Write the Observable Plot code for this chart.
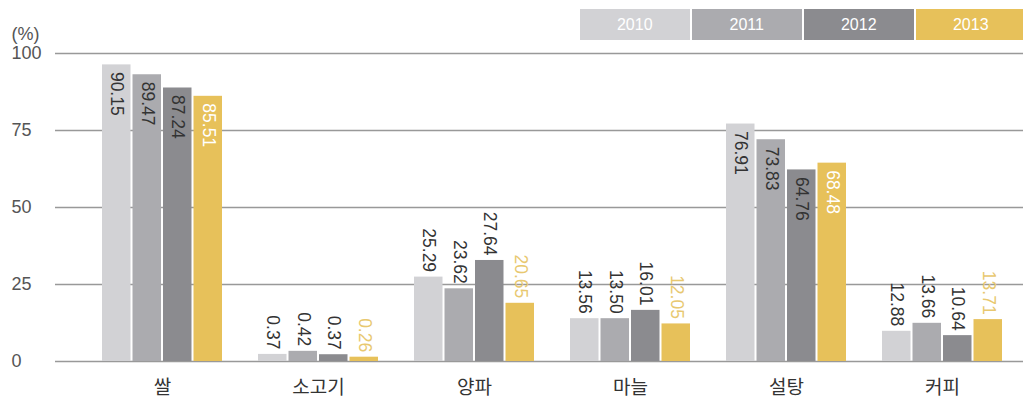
<!DOCTYPE html>
<html>
<head>
<meta charset="utf-8">
<script src="https://cdn.jsdelivr.net/npm/d3@7"></script>
<script src="https://cdn.jsdelivr.net/npm/@observablehq/plot@0.6"></script>
<style>
  html, body { margin: 0; padding: 0; background: #fff; }
  #wrap { position: relative; width: 1023px; height: 403px; font-family: "Liberation Sans", "Noto Sans CJK KR", sans-serif; }
  #legend { position: absolute; left: 580px; top: 9px; display: flex; gap: 2.5px; }
  #legend div { width: 109.5px; height: 31px; line-height: 31px; text-align: center; color: #fff; font-size: 16px; }
</style>
</head>
<body>
<div id="wrap"><div id="legend"></div></div>
<script>
const categories = ["쌀", "소고기", "양파", "마늘", "설탕", "커피"];
const years = ["2010", "2011", "2012", "2013"];
const colors = ["#d2d2d5", "#ababaf", "#8b8b8f", "#e7c15a"];
const labelColorsIn = ["#333333", "#333333", "#333333", "#ffffff"];
const labelColorsOut = ["#333333", "#333333", "#333333", "#e8c870"];

// bar heights as drawn in the picture (%)
const v2010 = [96.3, 2.3, 27.4, 13.9, 77.1, 9.8];
const v2011 = [93.1, 3.3, 23.6, 13.9, 72.0, 12.4];
const v2012 = [88.8, 2.2, 32.8, 16.6, 62.2, 8.4];
const v2013 = [86.1, 1.4, 18.9, 12.2, 64.4, 13.6];

// printed value labels
const l2010 = ["90.15", "0.37", "25.29", "13.56", "76.91", "12.88"];
const l2011 = ["89.47", "0.42", "23.62", "13.50", "73.83", "13.66"];
const l2012 = ["87.24", "0.37", "27.64", "16.01", "64.76", "10.64"];
const l2013 = ["85.51", "0.26", "20.65", "12.05", "68.48", "13.71"];

const yTicks = [0, 25, 50, 75, 100];

const valueSets = [v2010, v2011, v2012, v2013];
const labelSets = [l2010, l2011, l2012, l2013];
const rows = years.flatMap((year, i) =>
  categories.map((cat, j) => ({ cat, year, yi: i, value: valueSets[i][j], label: labelSets[i][j] }))
);

const sub = 30.5; // sub-band step within a category group
const marks = [
  Plot.ruleY(yTicks, { stroke: "#999", strokeWidth: 1.5 }),
  ...years.map((year, i) =>
    Plot.barY(rows.filter(d => d.yi === i), {
      x: "cat", y: "value", fill: "year",
      insetLeft: i * sub, insetRight: (3 - i) * sub
    })
  ),
  ...years.flatMap((year, i) => [
    Plot.text(rows.filter(d => d.yi === i && d.value >= 50), {
      x: "cat", y: "value", text: "label", rotate: 90,
      textAnchor: "start", lineAnchor: "middle",
      dx: (i - 1.5) * sub, dy: 7,
      fill: labelColorsIn[i], fontSize: 17.5
    }),
    Plot.text(rows.filter(d => d.yi === i && d.value < 50), {
      x: "cat", y: "value", text: "label", rotate: 90,
      textAnchor: "end", lineAnchor: "middle",
      dx: (i - 1.5) * sub, dy: -5,
      fill: labelColorsOut[i], fontSize: 17.5
    })
  ]),
  Plot.axisY({ ticks: yTicks, tickSize: 0, tickPadding: 0, textAnchor: "start", dx: -44, fontSize: 18, fill: "#555", label: null }),
  Plot.axisX({ tickSize: 0, tickPadding: 19, fontSize: 19, fill: "#333", label: null }),
  Plot.text(["(%)"], { frameAnchor: "top-left", dx: -44, dy: -26, textAnchor: "start", fontSize: 18, fill: "#555" })
];

const chart = Plot.plot({
  width: 1023,
  height: 403,
  marginLeft: 55,
  marginRight: 0,
  marginTop: 53,
  marginBottom: 42,
  style: { fontFamily: "'Liberation Sans', 'Noto Sans CJK KR', sans-serif", background: "transparent", overflow: "visible" },
  x: { type: "band", domain: categories, range: [101, 1003], paddingInner: 0.2327, paddingOuter: 0, label: null },
  y: { domain: [0, 100], label: null },
  color: { domain: years, range: colors },
  marks
});
chart.style.position = "absolute";
chart.style.left = "0";
chart.style.top = "0";
document.getElementById("wrap").prepend(chart);

const legend = document.getElementById("legend");
years.forEach((y, i) => {
  const d = document.createElement("div");
  d.textContent = y;
  d.style.background = colors[i];
  legend.appendChild(d);
});
</script>
</body>
</html>
